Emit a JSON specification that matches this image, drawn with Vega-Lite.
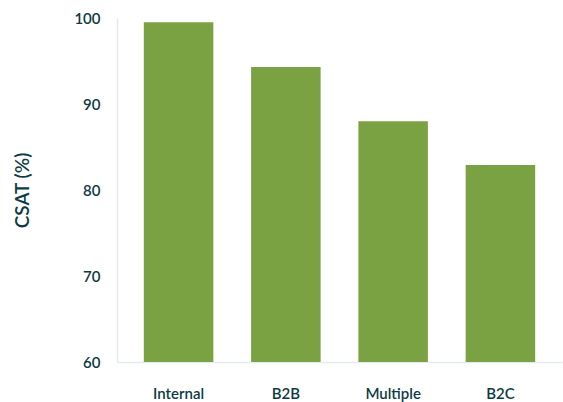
{
  "$schema": "https://vega.github.io/schema/vega-lite/v6.json",
  "autosize": {"type": "none"},
  "width": 445,
  "height": 344,
  "padding": {"left": 117, "top": 18, "right": 1, "bottom": 40},
  "background": "white",
  "data": {"values": [
    {"segment": "Internal", "csat": 99.5},
    {"segment": "B2B", "csat": 94.3},
    {"segment": "Multiple", "csat": 88.0},
    {"segment": "B2C", "csat": 82.9}
  ]},
  "mark": {"type": "bar", "color": "#7ba242", "clip": true},
  "encoding": {
    "x": {
      "field": "segment", "type": "nominal", "sort": null,
      "scale": {"paddingInner": 0.352, "paddingOuter": 0.25},
      "axis": {"title": null, "labelAngle": 0, "ticks": false, "labelPadding": 24, "domainColor": "#e3eaf0", "domainWidth": 1.5}
    },
    "y": {
      "field": "csat", "type": "quantitative",
      "scale": {"domain": [60, 100], "nice": false, "zero": false},
      "axis": {"title": "CSAT (%)", "values": [60, 70, 80, 90, 100], "grid": false, "ticks": false, "labelPadding": 17,
        "domainColor": "#e3eaf0", "domainWidth": 1.5,
        "titleX": -95, "titleY": 172, "titleAlign": "center", "titleBaseline": "middle", "titleAngle": -90}
    }
  },
  "config": {
    "view": {"stroke": null},
    "axis": {
      "labelFont": "Lato", "labelFontSize": 15, "labelFontWeight": 600, "labelColor": "#0e3b43",
      "titleFont": "Lato", "titleFontSize": 19, "titleFontWeight": 600, "titleColor": "#0e3b43"
    }
  }
}
